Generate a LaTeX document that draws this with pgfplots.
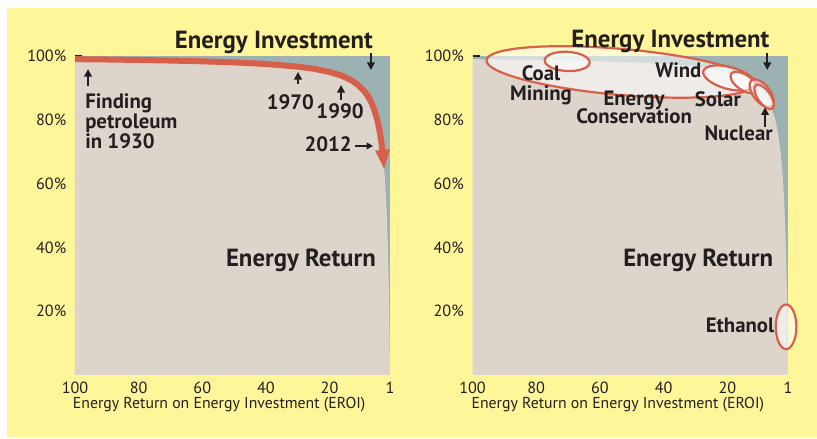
\documentclass[border=0pt]{standalone}
\usepackage{pgfplots}
\usepackage{pgfplotstable}
\pgfplotsset{compat=1.18}
\usepackage{fontspec}
\setmainfont{PT Sans}
\usetikzlibrary{arrows.meta}
\definecolor{bgyellow}{HTML}{FFF599}
\definecolor{beige}{HTML}{DDD4CC}
\definecolor{invest}{HTML}{9CB2B2}
\definecolor{eroired}{HTML}{D8604A}
\definecolor{ink}{HTML}{231F20}
\pgfplotstableread{
E Y
100 99
90 98.9
80 98.75
70 98.57
60 98.33
50 98
40 97.5
30 96.67
25 96
20 95
16 93.75
13 92.3
11 90.9
9 88.9
8 87.5
7 85.7
6 83.3
5 80
4.3 76.7
3.7 73
3.2 68.75
2.8 64.3
2.5 60
2.2 54.5
2 50
1.8 44.4
1.6 37.5
1.45 31
1.3 23
1.18 15.3
1.08 7.4
1 0
}\eroidata
\pgfplotsset{
 erpanel/.style={
  scale only axis, height=159.5pt,
  xmin=1, xmax=100, ymin=0, ymax=100, x dir=reverse,
  xtick={100,80,60,40,20,1},
  ytick={20,40,60,80,100},
  yticklabel={\pgfmathprintnumber{\tick}\%},
  /pgf/number format/assume math mode=true,
  axis line style={draw=none},
  axis background/.style={fill=invest},
  xtick style={draw=none},
  ytick pos=left, xtick pos=bottom,
  tick align=inside,
  major tick length=3.75pt,
  ytick style={draw=ink, line width=0.9pt},
  ticklabel style={font=\fontsize{8.1}{9}\selectfont, text=ink},
  yticklabel style={xshift=-0.8pt},
  clip=false,
 },
}
\newcommand\lbl{\fontsize{10.4}{11}\selectfont\bfseries}
\newcommand\ttl{\fontsize{12.4}{13}\selectfont\bfseries}
\newcommand\axl{\fontsize{7.9}{8.5}\selectfont}
\tikzset{
 callout/.style={draw=ink, line width=1pt, -{Triangle[length=3.8pt,width=3.8pt]}},
 oval/.style={draw=eroired, line width=1.1pt, fill=white, fill opacity=0.55},
 txt/.style={text=ink, inner sep=0pt},
}
\begin{document}
\begin{tikzpicture}
\fill[white] (0,0) rectangle (408.5pt,219pt);
\fill[bgyellow] (3.5pt,0.5pt) rectangle (408.5pt,215pt);
% ---------------- left panel
\begin{axis}[erpanel, width=157.5pt, at={(37.5pt,31.5pt)}, anchor=south west]
\addplot[draw=none, fill=beige] table {\eroidata} \closedcycle;
\addplot[eroired, line width=3pt, restrict x to domain=2.8:100, -{Triangle[length=10pt,width=6.5pt]}] table {\eroidata};
\coordinate (L-EI) at (axis cs:37.5,102.4);
\coordinate (L-a1s) at (axis cs:7.0,100.9);
\coordinate (L-a1e) at (axis cs:7.0,95.6);
\coordinate (L-find) at (axis cs:96.9,83.6);
\coordinate (L-a2s) at (axis cs:95.9,90.6);
\coordinate (L-a2e) at (axis cs:95.9,95.9);
\coordinate (L-1970) at (axis cs:32.3,83.3);
\coordinate (L-a3s) at (axis cs:29.9,91.2);
\coordinate (L-a3e) at (axis cs:29.9,95.0);
\coordinate (L-1990) at (axis cs:16.7,80.5);
\coordinate (L-a4s) at (axis cs:16.4,86.2);
\coordinate (L-a4e) at (axis cs:16.4,90.9);
\coordinate (L-2012) at (axis cs:12.9,70.0);
\coordinate (L-a5s) at (axis cs:12.0,71.8);
\coordinate (L-a5e) at (axis cs:6.3,71.8);
\coordinate (L-ER) at (axis cs:29.0,33.95);
\coordinate (L-xl) at (axis cs:54.7,-9.4);
\end{axis}
\node[txt, font=\ttl, anchor=base] at (L-EI) {Energy Investment};
\draw[callout] (L-a1s) -- (L-a1e);
\node[txt, font=\lbl, anchor=base west] at (L-find) {Finding};
\node[txt, font=\lbl, anchor=base west] at ([yshift=-10pt]L-find) {petroleum};
\node[txt, font=\lbl, anchor=base west] at ([yshift=-20pt]L-find) {in 1930};
\draw[callout] (L-a2s) -- (L-a2e);
\node[txt, font=\lbl, anchor=base] at (L-1970) {1970};
\draw[callout] (L-a3s) -- (L-a3e);
\node[txt, font=\lbl, anchor=base] at (L-1990) {1990};
\draw[callout] (L-a4s) -- (L-a4e);
\node[txt, font=\lbl, anchor=base east] at (L-2012) {2012};
\draw[callout, line width=0.8pt, -{Triangle[length=3.2pt,width=3.2pt]}] (L-a5s) -- (L-a5e);
\node[txt, font=\ttl, anchor=base] at (L-ER) {Energy Return};
\node[txt, font=\axl] at (L-xl) {Energy Return on Energy Investment (EROI)};
% ---------------- right panel
\begin{axis}[erpanel, width=157.75pt, at={(236.25pt,31.5pt)}, anchor=south west]
\addplot[draw=none, fill=beige] table {\eroidata} \closedcycle;
\coordinate (R-big) at (axis cs:53.4,95.0);
\coordinate (R-coal) at (axis cs:70.3,98.3);
\coordinate (R-wind) at (axis cs:19.5,93.1);
\coordinate (R-solar) at (axis cs:14.8,91.7);
\coordinate (R-nuc1) at (axis cs:9.25,88.3);
\coordinate (R-nuc2) at (axis cs:8.5,87.2);
\coordinate (R-eth) at (axis cs:1.6,15.1);
\coordinate (R-EI) at (axis cs:37.9,102.6);
\coordinate (R-a1s) at (axis cs:7.5,100.9);
\coordinate (R-a1e) at (axis cs:7.5,95.6);
\coordinate (R-coalt) at (axis cs:78.5,92.2);
\coordinate (R-mint) at (axis cs:78.5,85.9);
\coordinate (R-windt) at (axis cs:35.4,93.3);
\coordinate (R-ent) at (axis cs:49.3,84.6);
\coordinate (R-cont) at (axis cs:49.3,78.7);
\coordinate (R-solt) at (axis cs:23.0,84.3);
\coordinate (R-nuct) at (axis cs:16.5,73.4);
\coordinate (R-a2s) at (axis cs:8.2,77.8);
\coordinate (R-a2e) at (axis cs:8.2,83.9);
\coordinate (R-ER) at (axis cs:29.2,33.95);
\coordinate (R-etht) at (axis cs:5.2,13.4);
\coordinate (R-xl) at (axis cs:54.4,-9.4);
\end{axis}
\draw[oval, rotate around={-5:(R-big)}] (R-big) ellipse [x radius=67.5pt, y radius=11.5pt];
\draw[oval, rotate around={-3:(R-coal)}] (R-coal) ellipse [x radius=11.25pt, y radius=4.8pt];
\draw[oval, rotate around={-15:(R-wind)}] (R-wind) ellipse [x radius=13.3pt, y radius=5.5pt];
\draw[oval, rotate around={-34:(R-solar)}] (R-solar) ellipse [x radius=7.8pt, y radius=3.8pt];
\draw[oval, rotate around={-52:(R-nuc1)}] (R-nuc1) ellipse [x radius=8.25pt, y radius=4.2pt];
\draw[oval, rotate around={-55:(R-nuc2)}] (R-nuc2) ellipse [x radius=7.2pt, y radius=3.2pt];
\draw[oval] (R-eth) ellipse [x radius=5.15pt, y radius=11.15pt];
\node[txt, font=\ttl, anchor=base] at (R-EI) {Energy Investment};
\draw[callout] (R-a1s) -- (R-a1e);
\node[txt, font=\lbl, anchor=base] at (R-coalt) {Coal};
\node[txt, font=\lbl, anchor=base] at (R-mint) {Mining};
\node[txt, font=\lbl, anchor=base] at (R-windt) {Wind};
\node[txt, font=\lbl, anchor=base] at (R-ent) {Energy};
\node[txt, font=\lbl, anchor=base] at (R-cont) {Conservation};
\node[txt, font=\lbl, anchor=base] at (R-solt) {Solar};
\node[txt, font=\lbl, anchor=base] at (R-nuct) {Nuclear};
\draw[callout] (R-a2s) -- (R-a2e);
\node[txt, font=\ttl, anchor=base] at (R-ER) {Energy Return};
\node[txt, font=\lbl, anchor=base east] at (R-etht) {Ethanol};
\node[txt, font=\axl] at (R-xl) {Energy Return on Energy Investment (EROI)};
\end{tikzpicture}
\end{document}
